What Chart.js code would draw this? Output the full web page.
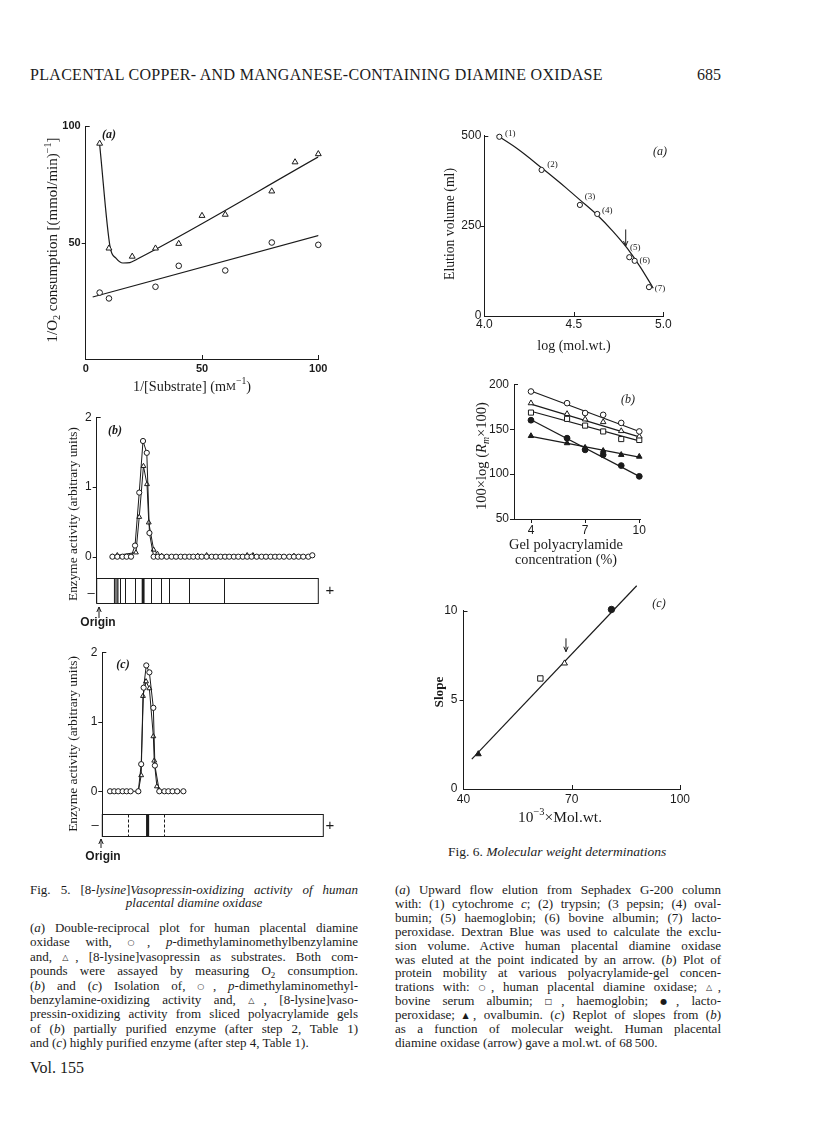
<!DOCTYPE html>
<html>
<head>
<meta charset="utf-8">
<title>Placental diamine oxidase - Figs. 5 and 6</title>
<script src="https://cdn.jsdelivr.net/npm/chart.js@4.4.1/dist/chart.umd.min.js"></script>
<style>
  body { margin: 0; width: 816px; height: 1136px; position: relative; overflow: hidden;
         background: #fff; color: #1b1b1b; font-family: "Liberation Serif", "DejaVu Serif", serif; }
  canvas { position: absolute; }
  .txt { position: absolute; white-space: nowrap; }
  .para { position: absolute; font-size: 13px; }
  .para div { text-align: justify; text-align-last: justify; }
  .para div.end { text-align-last: left; }
  .sym { font-family: "DejaVu Sans", sans-serif; font-size: 8px; position: relative; top: -1px; line-height: 0; }
  .sb { font-size: 9px; position: relative; top: 3px; line-height: 0; }
</style>
</head>
<body>

<div class="txt" id="runhead" style="left:30px;top:66px;font-size:16px;letter-spacing:0.3px;">PLACENTAL COPPER- AND MANGANESE-CONTAINING DIAMINE OXIDASE</div>
<div class="txt" style="left:697px;top:66px;font-size:16px;">685</div>

<div class="para" style="left:30px;top:883px;width:328px;line-height:13.4px;">
  <div>Fig. 5. [8-<i>lysine</i>]<i>Vasopressin-oxidizing activity of human</i></div>
  <div class="end" style="text-align:center;text-align-last:center;"><i>placental diamine oxidase</i></div>
</div>

<div class="para" style="left:30px;top:921px;width:328px;line-height:14.4px;">
  <div>(<i>a</i>) Double-reciprocal plot for human placental diamine</div>
  <div>oxidase with, <span class="sym">○</span>, <i>p</i>-dimethylaminomethylbenzylamine</div>
  <div>and, <span class="sym">△</span>, [8-lysine]vasopressin as substrates. Both com-</div>
  <div>pounds were assayed by measuring O<span class="sb">2</span> consumption.</div>
  <div>(<i>b</i>) and (<i>c</i>) Isolation of, <span class="sym">○</span>, <i>p</i>-dimethylaminomethyl-</div>
  <div>benzylamine-oxidizing activity and, <span class="sym">△</span>, [8-lysine]vaso-</div>
  <div>pressin-oxidizing activity from sliced polyacrylamide gels</div>
  <div>of (<i>b</i>) partially purified enzyme (after step 2, Table 1)</div>
  <div class="end">and (<i>c</i>) highly purified enzyme (after step 4, Table 1).</div>
</div>

<div class="txt" style="left:30px;top:1059px;font-size:16px;">Vol. 155</div>

<div class="txt" style="left:448px;top:844px;font-size:13.5px;">Fig. 6. <i>Molecular weight determinations</i></div>

<div class="para" style="left:395px;top:883px;width:326px;line-height:13.9px;">
  <div>(<i>a</i>) Upward flow elution from Sephadex G-200 column</div>
  <div>with: (1) cytochrome <i>c</i>; (2) trypsin; (3 pepsin; (4) oval-</div>
  <div>bumin; (5) haemoglobin; (6) bovine albumin; (7) lacto-</div>
  <div>peroxidase. Dextran Blue was used to calculate the exclu-</div>
  <div>sion volume. Active human placental diamine oxidase</div>
  <div>was eluted at the point indicated by an arrow. (<i>b</i>) Plot of</div>
  <div>protein mobility at various polyacrylamide-gel concen-</div>
  <div>trations with: <span class="sym">○</span>, human placental diamine oxidase; <span class="sym">△</span>,</div>
  <div>bovine serum albumin; <span class="sym">□</span>, haemoglobin; <span class="sym">●</span>, lacto-</div>
  <div>peroxidase; <span class="sym">▲</span>, ovalbumin. (<i>c</i>) Replot of slopes from (<i>b</i>)</div>
  <div>as a function of molecular weight. Human placental</div>
  <div class="end">diamine oxidase (arrow) gave a mol.wt. of 68&#8201;500.</div>
</div>

<script>
const INK = '#1b1b1b';
const SERIF = '"Liberation Serif", "DejaVu Serif", serif';
const SANS = '"Liberation Sans", "DejaVu Sans", sans-serif';

// ---- Fig. 5(a): double-reciprocal plot
const vasoSubstrateInv = [6, 10, 20, 30, 40, 50, 60, 80, 90, 100];
const vasoRate = [92.5, 47.5, 44, 47.5, 49.5, 61.5, 62, 72, 84.5, 88];
const benzSubstrateInv = [6, 10, 30, 40, 60, 80, 100];
const benzRate = [28.5, 26, 31, 40, 38, 50, 49];
const benzFitX = [3, 100.5];
const benzFitY = [26.6, 53.1];
const vasoFitX = [6, 10.5, 13, 16, 19, 22, 100.5];
const vasoFitY = [92, 48, 43.3, 41.2, 41.4, 42.8, 87];

// ---- Fig. 5(b): partially purified enzyme, gel slices (position as % of gel length)
const benzSliceB = [7.1, 9.3, 11.6, 13.5, 15.5, 17.3, 19.2, 20.9, 22.6, 23.8, 25.7, 27.6, 29.3, 31.6, 33.8,
  35.8, 37.9, 39.8, 41.8, 43.6, 45.6, 47.4, 49.6, 51.9, 53.8, 55.9, 57.9, 59.8, 61.9, 63.9, 65.9, 67.9,
  69.9, 72.2, 74.4, 76.4, 78.5, 80.5, 82.4, 84.5, 86.9, 89.0, 91.1, 93.2, 95.5, 97.3];
const benzActB = [0, 0, 0, 0, 0, 0.16, 0.92, 1.66, 1.49, 0.34, 0, 0, 0, 0, 0,
  0, 0, 0, 0, 0, 0, 0, 0, 0, 0, 0, 0, 0, 0, 0, 0, 0,
  0, 0, 0, 0, 0, 0, 0, 0, 0, 0, 0, 0, 0, 0.02];
const vasoSliceB = [7.1, 9.3, 17.7, 19.2, 21.1, 22.7, 23.5, 25.7, 27.4, 29.3, 45.6, 49.6, 67.9, 70.5, 89.0];
const vasoActB = [0, 0.02, 0.06, 0.57, 1.30, 1.04, 0.49, 0.10, 0.04, 0.01, 0.01, 0.02, 0.02, 0.02, 0.01];
const gelLinesB = [10.5, 12.8, 17.3, 24.5, 28.9, 32.8, 41.8, 57.4];
const gelGreyB = [[8.0, 9.6]];
const gelDarkB = [[20.3, 21.6]];

// ---- Fig. 5(c): highly purified enzyme
const benzSliceC = [3.5, 5.4, 7.2, 9.2, 11.0, 12.8, 16.3, 17.6, 18.7, 19.9, 21.3, 23.1, 23.8, 25.8, 28.1, 29.9, 31.8, 33.9, 36.7];
const benzActC = [0, 0, 0, 0, 0, 0, 0, 0.39, 1.49, 1.81, 1.71, 1.20, 0.37, 0, 0, 0, 0, 0, 0];
const vasoSliceC = [16.3, 17.6, 18.4, 19.8, 21.3, 23.1, 23.5, 24.7, 25.8];
const vasoActC = [0, 0.23, 1.37, 1.58, 1.48, 0.79, 0.44, 0.07, 0.01];
const gelDashedC = [11.5, 27.9];
const gelDarkC = [[19.8, 21.2]];

// ---- Fig. 6(a): Sephadex G-200 elution
const proteinLogMw = [4.084, 4.32, 4.534, 4.631, 4.81, 4.84, 4.92];
const elutionVol = [497, 405, 308, 283, 163, 153, 80];
const proteinTags = ['(1)', '(2)', '(3)', '(4)', '(5)', '(6)', '(7)'];
const elutionCurveX = [4.058, 4.181, 4.32, 4.46, 4.534, 4.631, 4.72, 4.798, 4.87, 4.944];
const elutionCurveY = [505, 465, 411, 354, 322, 280, 234, 188, 137, 77];
const placentalLogMw = 4.79;   // arrow
const placentalArrowY = [240, 194];

// ---- Fig. 6(b): mobility vs gel concentration
const gelConc = [4, 6, 7, 8, 9, 10];
const placentalRm = [192, 179, 168, 166, 157, 147.5];
const bsaRm = [179, 167, 161, 158, 148, 142];
const hbRm = [168.5, 161.5, 154, 147.5, 139, 138];
const lpoRm = [160, 140, 127, 121.5, 109.5, 97.5];
const ovaRm = [142.5, 134.5, 129.5, 126, 121.5, 119.5];
const fitConc = [4, 10];
const placentalFit = [192.5, 147.5];
const bsaFit = [178, 141.5];
const hbFit = [170, 137];
const lpoFit = [160.5, 97.5];
const ovaFit = [142, 119];

// ---- Fig. 6(c): slope vs mol.wt.
const markerMw = [44.1, 61.3, 68.0, 81.0];      // ovalbumin, haemoglobin, BSA, lactoperoxidase
const markerSlope = [1.96, 6.2, 7.05, 10.07];
const slopeFitX = [42.3, 88];
const slopeFitY = [1.68, 11.4];
const placentalMw = 68.4;   // arrow
const placentalSlopeArrow = [8.45, 7.7];

// ---------------------------------------------------------------
const pts = (xs, ys) => xs.map((x, i) => ({ x, y: ys[i] }));

function mount(box, cfg) {
  const c = document.createElement('canvas');
  c.width = box.x2 - box.x;
  c.height = box.y2 - box.y;
  c.style.left = box.x + 'px';
  c.style.top = box.y + 'px';
  document.body.appendChild(c);
  return new Chart(c, cfg);
}

// scales + layout so the plot area lands on `area` (page pixels)
function frame(box, area, o) {
  const yw = area.l - box.x, xh = box.y2 - area.b;
  return {
    responsive: false, animation: false, devicePixelRatio: 1,
    layout: { padding: { left: 0, top: area.t - box.y, right: box.x2 - area.r, bottom: 0 } },
    plugins: { legend: { display: false }, tooltip: { enabled: false } },
    scales: {
      x: {
        type: 'linear', display: !o.xHidden, min: o.x[0], max: o.x[1],
        grid: { display: false, drawTicks: false }, border: { color: INK, width: 1 },
        ticks: { color: INK, font: { family: SANS, size: o.tickSize || 12, weight: o.tickWeight || 'normal' },
                 padding: o.xPad ?? 2, maxRotation: 0, autoSkip: false, callback: o.xFmt || (v => String(v)) },
        afterBuildTicks: s => { s.ticks = (o.xTicks || []).map(v => ({ value: v })); },
        afterFit: s => { s.height = xh; }
      },
      y: {
        type: 'linear', min: o.y[0], max: o.y[1],
        grid: { display: false, drawTicks: false }, border: { color: INK, width: 1 },
        ticks: { color: INK, font: { family: SANS, size: o.tickSize || 12, weight: o.tickWeight || 'normal' },
                 padding: o.yPad ?? 5, autoSkip: false, callback: o.yFmt || (v => String(v)) },
        afterBuildTicks: s => { s.ticks = o.yTicks.map(v => ({ value: v })); },
        afterFit: s => { s.width = yw; }
      }
    }
  };
}

// text with italic / sub / sup runs, centred at page point (px, py)
function rich(chart, box, segs, px, py, size, opt = {}) {
  const ctx = chart.ctx;
  const family = opt.family || SERIF;
  const build = sz => segs.map(s => {
    const o = typeof s === 'string' ? { t: s } : s;
    const fs = (o.sub || o.sup) ? sz * 0.68 : o.sc ? sz * 0.78 : sz;
    const font = `${o.i ? 'italic ' : ''}${opt.bold ? 'bold ' : ''}${fs}px ${family}`;
    ctx.font = font;
    return { t: o.t, font, w: ctx.measureText(o.t).width, dy: o.sub ? sz * 0.28 : o.sup ? -sz * 0.36 : 0 };
  });
  let parts = build(size);
  let W = parts.reduce((a, p) => a + p.w, 0);
  if (opt.w) {
    parts = build(size * opt.w / W);
    W = parts.reduce((a, p) => a + p.w, 0);
  }
  ctx.save();
  ctx.translate(px - box.x, py - box.y);
  if (opt.rot) ctx.rotate(opt.rot);
  ctx.fillStyle = INK;
  ctx.textBaseline = 'middle';
  ctx.textAlign = 'left';
  let cx = opt.align === 'left' ? 0 : -W / 2;
  parts.forEach(p => { ctx.font = p.font; ctx.fillText(p.t, cx, p.dy); cx += p.w; });
  ctx.restore();
}

function tickMarks(chart, xs, ys) {
  const { ctx, chartArea: a, scales } = chart;
  ctx.save();
  ctx.strokeStyle = INK;
  ctx.lineWidth = 1;
  ctx.beginPath();
  xs.forEach(([v, d]) => {
    const p = Math.round(scales.x.getPixelForValue(v)) + 0.5;
    ctx.moveTo(p, a.bottom); ctx.lineTo(p, a.bottom - 4 * d);
  });
  ys.forEach(([v, d]) => {
    const p = Math.round(scales.y.getPixelForValue(v)) + 0.5;
    ctx.moveTo(a.left, p); ctx.lineTo(a.left + 4 * d, p);
  });
  ctx.stroke();
  ctx.restore();
}

function arrow(ctx, x, y1, y2) {
  const d = Math.sign(y2 - y1);
  ctx.save();
  ctx.strokeStyle = INK;
  ctx.lineWidth = 1;
  ctx.beginPath();
  ctx.moveTo(x, y1); ctx.lineTo(x, y2);
  ctx.moveTo(x - 2.2, y2 - 5 * d); ctx.lineTo(x, y2); ctx.lineTo(x + 2.2, y2 - 5 * d);
  ctx.stroke();
  ctx.restore();
}

function drawGel(chart, top, lines, grey, dark, dashed) {
  const { ctx, chartArea: a, scales: { x, y } } = chart;
  const L = a.left, R = x.getPixelForValue(100);
  const T = Math.round(y.getPixelForValue(top)) + 0.5, B = Math.round(a.bottom) + 0.5;
  ctx.save();
  ctx.strokeStyle = INK;
  ctx.lineWidth = 1;
  ctx.strokeRect(L, T, R - L, B - T);
  ctx.beginPath();
  lines.forEach(v => { const p = Math.round(x.getPixelForValue(v)) + 0.5; ctx.moveTo(p, T); ctx.lineTo(p, B); });
  ctx.stroke();
  grey.forEach(([a1, a2]) => {
    const p1 = x.getPixelForValue(a1), p2 = x.getPixelForValue(a2);
    ctx.fillStyle = '#777';
    ctx.fillRect(p1, T, p2 - p1, B - T);
    ctx.strokeRect(p1, T, p2 - p1, B - T);
  });
  dark.forEach(([a1, a2]) => {
    const p1 = x.getPixelForValue(a1), p2 = x.getPixelForValue(a2);
    ctx.fillStyle = INK;
    ctx.fillRect(p1, T, p2 - p1, B - T);
  });
  ctx.setLineDash([3, 2]);
  ctx.beginPath();
  dashed.forEach(v => { const p = Math.round(x.getPixelForValue(v)) + 0.5; ctx.moveTo(p, T); ctx.lineTo(p, B); });
  ctx.stroke();
  ctx.restore();
}

const marker = (style, filled, r) => ({
  showLine: false, pointStyle: style, pointRadius: r, borderColor: INK, borderWidth: 1,
  pointBackgroundColor: filled ? INK : '#fff', pointBorderColor: INK, clip: false
});
const curve = (extra) => Object.assign({ pointRadius: 0, borderColor: INK, borderWidth: 1.2, fill: false }, extra);

// ================= Fig. 5(a) =================
{
  const box = { x: 30, y: 105, x2: 350, y2: 400 };
  const area = { l: 85.7, r: 318.3, t: 126, b: 359 };
  const options = frame(box, area, {
    x: [0, 100], y: [0, 100], xTicks: [0, 50, 100], yTicks: [0, 50, 100],
    yFmt: v => (v === 0 ? '' : String(v)), tickSize: 11, tickWeight: 'bold', xPad: 3
  });
  mount(box, {
    type: 'scatter',
    data: { datasets: [
      Object.assign({ data: pts(benzSubstrateInv, benzRate) }, marker('circle', false, 2.8)),
      Object.assign({ data: pts(vasoSubstrateInv, vasoRate) }, marker('triangle', false, 3.4)),
      curve({ type: 'line', data: pts(benzFitX, benzFitY) }),
      curve({ type: 'line', data: pts(vasoFitX, vasoFitY), cubicInterpolationMode: 'monotone' })
    ] },
    options,
    plugins: [{ id: 'deco5a', afterDraw(chart) {
      tickMarks(chart, [[50, 1], [100, 1]], [[100, 1], [50, -1]]);
      rich(chart, box, ['1/O', { t: '2', sub: 1 }, ' consumption [(mmol/min)', { t: '−1', sup: 1 }, ']'],
           53.3, 240, 14, { rot: -Math.PI / 2, w: 205 });
      rich(chart, box, ['1/[Substrate] (m', { t: 'M', sc: 1 }, { t: '−1', sup: 1 }, ')'], 192, 387, 14, { w: 118 });
      rich(chart, box, [{ t: '(a)', i: 1 }], 109, 135, 12, { bold: true });
    } }]
  });
}

// ================= Fig. 5(b) =================
{
  const box = { x: 30, y: 405, x2: 350, y2: 635 };
  const area = { l: 96.7, r: 318.3, t: 417.3, b: 602.7 };
  const options = frame(box, area, { xHidden: true, x: [0, 100], y: [-0.66, 2], yTicks: [0, 1, 2] });
  mount(box, {
    type: 'scatter',
    data: { datasets: [
      Object.assign({ data: pts(benzSliceB, benzActB) }, marker('circle', false, 2.6), { showLine: true }),
      Object.assign({ data: pts(vasoSliceB, vasoActB) }, marker('triangle', false, 2.8), { showLine: true })
    ] },
    options,
    plugins: [{ id: 'deco5b', afterDraw(chart) {
      tickMarks(chart, [], [[2, 1], [1, -1], [0, -1]]);
      drawGel(chart, -0.31, gelLinesB, gelGreyB, gelDarkB, []);
      const ctx = chart.ctx;
      arrow(ctx, 99 - box.x, 618 - box.y, 607 - box.y);
      rich(chart, box, ['Origin'], 98, 623, 12, { family: SANS, bold: true });
      rich(chart, box, ['+'], 330, 591, 15, { family: SANS });
      rich(chart, box, ['–'], 91, 593, 13, { family: SANS });
      rich(chart, box, ['Enzyme activity (arbitrary units)'], 73.3, 514, 14, { rot: -Math.PI / 2, w: 174 });
      rich(chart, box, [{ t: '(b)', i: 1 }], 115, 431, 12, { bold: true });
    } }]
  });
}

// ================= Fig. 5(c) =================
{
  const box = { x: 30, y: 640, x2: 350, y2: 875 };
  const area = { l: 102.3, r: 323.3, t: 651, b: 836 };
  const options = frame(box, area, { xHidden: true, x: [0, 100], y: [-0.643, 2], yTicks: [0, 1, 2] });
  mount(box, {
    type: 'scatter',
    data: { datasets: [
      Object.assign({ data: pts(benzSliceC, benzActC) }, marker('circle', false, 2.6), { showLine: true }),
      Object.assign({ data: pts(vasoSliceC, vasoActC) }, marker('triangle', false, 2.8), { showLine: true })
    ] },
    options,
    plugins: [{ id: 'deco5c', afterDraw(chart) {
      tickMarks(chart, [], [[2, 1], [1, -1], [0, -1]]);
      drawGel(chart, -0.324, [], [], gelDarkC, gelDashedC);
      const ctx = chart.ctx;
      arrow(ctx, 101 - box.x, 848 - box.y, 839 - box.y);
      rich(chart, box, ['Origin'], 103, 857, 12, { family: SANS, bold: true });
      rich(chart, box, ['+'], 330, 826, 15, { family: SANS });
      rich(chart, box, ['–'], 95, 825, 13, { family: SANS });
      rich(chart, box, ['Enzyme activity (arbitrary units)'], 73.3, 744, 14, { rot: -Math.PI / 2, w: 176 });
      rich(chart, box, [{ t: '(c)', i: 1 }], 123, 665, 12, { bold: true });
    } }]
  });
}

// ================= Fig. 6(a) =================
{
  const box = { x: 400, y: 120, x2: 700, y2: 360 };
  const area = { l: 484.3, r: 663.3, t: 135.7, b: 316 };
  const options = frame(box, area, {
    x: [4, 5], y: [0, 500], xTicks: [4, 4.5, 5], yTicks: [0, 250, 500],
    xFmt: v => v.toFixed(1), xPad: 1, yPad: 3
  });
  const nudge = [[11, -3], [11, -5], [10, -8], [10, -3], [6, -10], [10, 0], [11, 1]];
  mount(box, {
    type: 'scatter',
    data: { datasets: [
      Object.assign({ data: pts(proteinLogMw, elutionVol) }, marker('circle', false, 2.6)),
      curve({ type: 'line', data: pts(elutionCurveX, elutionCurveY), cubicInterpolationMode: 'monotone' })
    ] },
    options,
    plugins: [{ id: 'deco6a', afterDraw(chart) {
      const { ctx, scales: { x, y } } = chart;
      tickMarks(chart, [[4.5, 1], [5, 1]], [[500, 1], [250, -1]]);
      proteinTags.forEach((t, i) => {
        const px = x.getPixelForValue(proteinLogMw[i]) + box.x + nudge[i][0];
        const py = y.getPixelForValue(elutionVol[i]) + box.y + nudge[i][1];
        rich(chart, box, [t], px, py, 9);
      });
      arrow(ctx, x.getPixelForValue(placentalLogMw), y.getPixelForValue(placentalArrowY[0]), y.getPixelForValue(placentalArrowY[1]));
      rich(chart, box, ['Elution volume (ml)'], 450, 224, 14, { rot: -Math.PI / 2, w: 112 });
      rich(chart, box, ['log (mol.wt.)'], 574, 346, 14);
      rich(chart, box, [{ t: '(a)', i: 1 }], 660, 152, 12);
    } }]
  });
}

// ================= Fig. 6(b) =================
{
  const box = { x: 440, y: 370, x2: 680, y2: 570 };
  const area = { l: 514, r: 640, t: 384.3, b: 519 };
  const options = frame(box, area, {
    x: [3.06, 10.04], y: [50, 200], xTicks: [4, 7, 10], yTicks: [50, 100, 150, 200], xPad: 4, yPad: 5
  });
  mount(box, {
    type: 'scatter',
    data: { datasets: [
      Object.assign({ data: pts(gelConc, placentalRm) }, marker('circle', false, 2.8)),
      Object.assign({ data: pts(gelConc, bsaRm) }, marker('triangle', false, 3.2)),
      Object.assign({ data: pts(gelConc, hbRm) }, marker('rect', false, 3.6)),
      Object.assign({ data: pts(gelConc, lpoRm) }, marker('circle', true, 2.9)),
      Object.assign({ data: pts(gelConc, ovaRm) }, marker('triangle', true, 3.2)),
      curve({ type: 'line', data: pts(fitConc, placentalFit) }),
      curve({ type: 'line', data: pts(fitConc, bsaFit) }),
      curve({ type: 'line', data: pts(fitConc, hbFit) }),
      curve({ type: 'line', data: pts(fitConc, lpoFit) }),
      curve({ type: 'line', data: pts(fitConc, ovaFit) })
    ] },
    options,
    plugins: [{ id: 'deco6b', afterDraw(chart) {
      tickMarks(chart, [[4, -1], [7, -1], [10, -1]], [[200, 1], [150, -1], [100, -1], [50, -1]]);
      rich(chart, box, ['100×log (', { t: 'R', i: 1 }, { t: 'm', i: 1, sub: 1 }, '×100)'], 482, 456, 14,
           { rot: -Math.PI / 2, w: 108 });
      rich(chart, box, ['Gel polyacrylamide'], 566, 545, 14, { w: 114 });
      rich(chart, box, ['concentration (%)'], 566, 560, 14, { w: 102 });
      rich(chart, box, [{ t: '(b)', i: 1 }], 628, 400, 12);
    } }]
  });
}

// ================= Fig. 6(c) =================
{
  const box = { x: 420, y: 578, x2: 710, y2: 835 };
  const area = { l: 463.5, r: 680, t: 610.7, b: 789 };
  const options = frame(box, area, {
    x: [40, 100], y: [0, 10], xTicks: [40, 70, 100], yTicks: [0, 5, 10], xPad: 3, yPad: 6
  });
  mount(box, {
    type: 'scatter',
    data: { datasets: [
      Object.assign({ data: pts(markerMw, markerSlope) }, marker('circle', false, 3), {
        pointStyle: ['triangle', 'rect', 'triangle', 'circle'],
        pointRadius: [3.4, 3.8, 3.4, 3.2],
        pointBackgroundColor: [INK, '#fff', '#fff', INK]
      }),
      curve({ type: 'line', data: pts(slopeFitX, slopeFitY), clip: false })
    ] },
    options,
    plugins: [{ id: 'deco6c', afterDraw(chart) {
      const { ctx, scales: { x, y } } = chart;
      tickMarks(chart, [[70, 1], [100, 1]], [[10, 1], [5, -1]]);
      arrow(ctx, x.getPixelForValue(placentalMw), y.getPixelForValue(placentalSlopeArrow[0]), y.getPixelForValue(placentalSlopeArrow[1]));
      rich(chart, box, ['Slope'], 440, 692, 14, { rot: -Math.PI / 2, w: 31, bold: true });
      rich(chart, box, ['10', { t: '−3', sup: 1 }, '×Mol.wt.'], 560, 818, 14, { w: 84 });
      rich(chart, box, [{ t: '(c)', i: 1 }], 659, 604, 12);
    } }]
  });
}
</script>
</body>
</html>
